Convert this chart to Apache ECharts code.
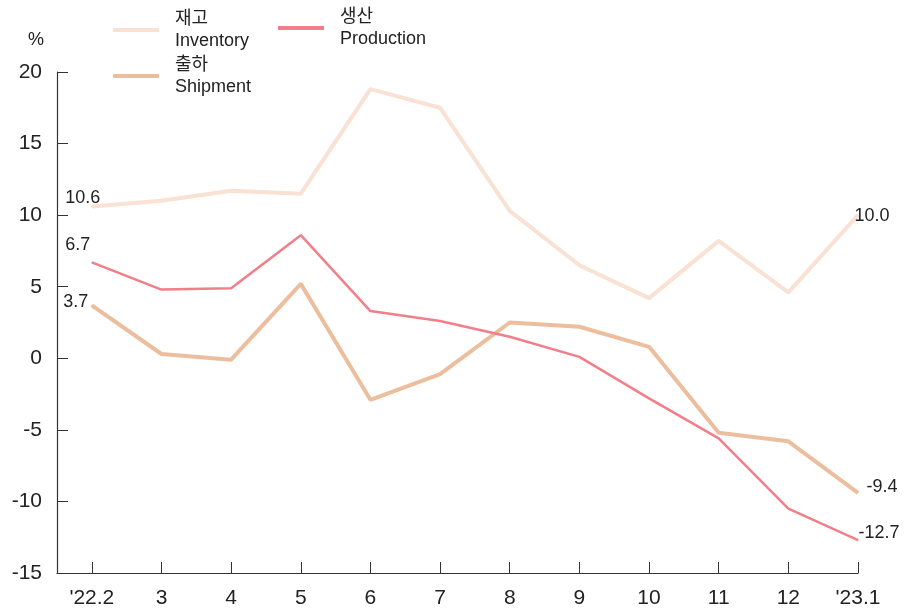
<!DOCTYPE html>
<html>
<head>
<meta charset="utf-8">
<script src="https://cdn.jsdelivr.net/npm/echarts@6/dist/echarts.min.js"></script>
<style>html,body{margin:0;padding:0;background:#fff}#c{width:904px;height:612px}</style>
</head>
<body>
<div id="c"></div>
<script>
var categories = ["'22.2", "3", "4", "5", "6", "7", "8", "9", "10", "11", "12", "'23.1"];
var inventory = [10.6, 11.0, 11.7, 11.5, 18.8, 17.5, 10.3, 6.5, 4.2, 8.2, 4.6, 10.0];
var shipment = [3.7, 0.3, -0.1, 5.2, -2.9, -1.1, 2.5, 2.2, 0.8, -5.2, -5.8, -9.4];
var production = [6.7, 4.8, 4.9, 8.6, 3.3, 2.6, 1.5, 0.1, -2.8, -5.6, -10.5, -12.7];
var endLabels = {
  inventory: ["10.6", "10.0"],
  shipment: ["3.7", "-9.4"],
  production: ["6.7", "-12.7"]
};
var seriesNames = ["재고\nInventory", "출하\nShipment", "생산\nProduction"];

var narrow = "'Liberation Sans Narrow', 'Arial Narrow', 'Liberation Sans', Arial, sans-serif";
var sans = "'Liberation Sans', Arial, 'Noto Sans CJK KR', sans-serif";

function build(values, labels, firstOff, lastOff) {
  return values.map(function (v, i) {
    var item = { value: [i, v] };
    if (i === 0 || i === values.length - 1) {
      item.label = {
        show: true,
        position: 'inside',
        align: 'center',
        verticalAlign: 'middle',
        formatter: i === 0 ? labels[0] : labels[1],
        offset: i === 0 ? firstOff : lastOff,
        color: '#222',
        fontSize: 18,
        fontFamily: narrow
      };
    }
    return item;
  });
}

var chart = echarts.init(document.getElementById('c'), null, { renderer: 'canvas' });
var idx = categories.map(function (c, i) { return i; });

function legendCfg(name, left, top) {
  return {
    data: [name],
    left: left,
    top: top,
    orient: 'vertical',
    icon: 'rect',
    itemWidth: 46,
    itemHeight: 4,
    padding: 0,
    selectedMode: false,
    textStyle: {
      fontSize: 18,
      lineHeight: 22,
      color: '#222',
      fontFamily: sans,
      padding: [0, 0, 0, 11]
    }
  };
}

chart.setOption({
  animation: false,
  backgroundColor: '#fff',
  grid: { left: 57, right: 46, top: 72, bottom: 39, containLabel: false },
  legend: [
    legendCfg(seriesNames[0], 113, 8),
    legendCfg(seriesNames[1], 113, 54),
    legendCfg(seriesNames[2], 278, 6)
  ],
  graphic: [{
    type: 'text', left: 28, top: 31,
    style: { text: '%', fontSize: 18, fill: '#222', fontFamily: sans }
  }],
  xAxis: {
    type: 'value',
    min: -0.5,
    max: 11,
    splitLine: { show: false },
    axisLine: { show: true, onZero: false, lineStyle: { color: '#333', width: 1.2 } },
    axisTick: { show: true, inside: true, length: 11, customValues: idx, lineStyle: { color: '#333' } },
    axisLabel: {
      customValues: idx,
      margin: 15,
      fontSize: 21,
      color: '#222',
      fontFamily: narrow,
      formatter: function (v) { return categories[Math.round(v)]; }
    }
  },
  yAxis: {
    type: 'value',
    min: -15,
    max: 20,
    interval: 5,
    splitLine: { show: false },
    axisLine: { show: true, onZero: false, lineStyle: { color: '#333', width: 1.2 } },
    axisTick: { show: true, inside: true, length: 11, lineStyle: { color: '#333' } },
    axisLabel: { margin: 15, fontSize: 21, color: '#222', fontFamily: sans }
  },
  series: [
    {
      name: seriesNames[0], type: 'line', z: 2,
      symbol: 'circle', symbolSize: 1, showSymbol: true,
      color: '#f9e1d3',
      lineStyle: { width: 4, color: '#f9e1d3' },
      itemStyle: { color: '#f9e1d3' },
      data: build(inventory, endLabels.inventory, [-9, -9], [14, 1])
    },
    {
      name: seriesNames[1], type: 'line', z: 3,
      symbol: 'circle', symbolSize: 1, showSymbol: true,
      color: '#ecbe9d',
      lineStyle: { width: 4, color: '#ecbe9d' },
      itemStyle: { color: '#ecbe9d' },
      data: build(shipment, endLabels.shipment, [-16, -3], [24, -6])
    },
    {
      name: seriesNames[2], type: 'line', z: 4,
      symbol: 'circle', symbolSize: 1, showSymbol: true,
      color: '#f17f89',
      lineStyle: { width: 2.5, color: '#f17f89' },
      itemStyle: { color: '#f17f89' },
      data: build(production, endLabels.production, [-14, -17], [21, -7])
    }
  ]
});
</script>
</body>
</html>
